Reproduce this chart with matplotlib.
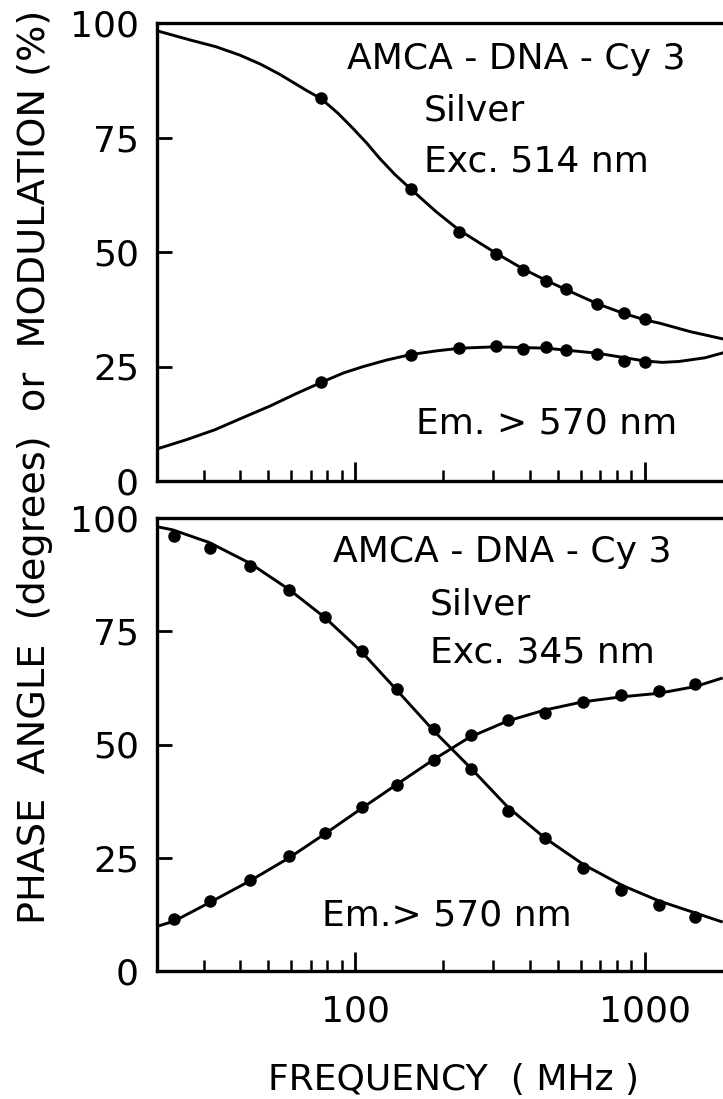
import matplotlib
matplotlib.use("Agg")
from matplotlib import pyplot as plt
from matplotlib.ticker import FixedLocator, NullFormatter

# ---- data ----
# top panel: Exc. 514 nm
topFreq = [76, 155, 228, 305, 380, 456, 534, 686, 845, 1000]
topMod = [83.6, 63.8, 54.4, 49.6, 46.0, 43.6, 42.0, 38.7, 36.6, 35.4]
topPhase = [21.7, 27.5, 29.0, 29.4, 28.8, 29.2, 28.5, 27.7, 26.3, 25.9]

topModFitFreq = [20.6, 26.8, 33, 39.8, 47, 54.7, 61, 67.6, 76, 87, 98, 110, 121,
                 137, 155, 190, 228, 305, 380, 456, 534, 686, 845, 1000, 1135,
                 1439, 1870]
topModFit = [98.3, 96.3, 94.8, 93.0, 91.0, 88.8, 87.0, 85.3, 83.5, 80.3, 77.0,
             73.6, 70.5, 66.9, 63.8, 58.8, 54.8, 49.8, 46.3, 43.8, 41.8, 38.7,
             36.6, 35.2, 34.4, 32.6, 31.0]
topPhaseFitFreq = [20.6, 26, 32.7, 40, 50.8, 62, 77.9, 91, 106.6, 128, 155, 190,
                   230, 305, 456, 686, 1000, 1150, 1315, 1615, 1870]
topPhaseFit = [7.0, 9.0, 11.2, 13.6, 16.4, 19.0, 21.8, 23.6, 25.0, 26.4, 27.6,
               28.4, 29.0, 29.3, 29.0, 27.9, 26.2, 25.9, 26.1, 26.9, 28.0]

# bottom panel: Exc. 345 nm
botFreq = [23.5, 31.4, 43.2, 59.0, 78.5, 105, 139, 186.6, 250, 336, 451, 611,
           831, 1117, 1490]
botPhase = [11.5, 15.5, 20.1, 25.3, 30.4, 36.2, 41.0, 46.6, 52.0, 55.3, 57.0,
            59.3, 60.9, 61.9, 63.3]
botMod = [96.1, 93.4, 89.5, 84.0, 78.2, 70.6, 62.3, 53.4, 44.7, 35.4, 29.4,
          22.7, 17.9, 14.6, 12.0]

botPhaseFitFreq = [20.5, 23.6, 31.5, 43.2, 59, 78.5, 105.6, 139, 186.6, 248, 336,
                   451, 609, 826, 1117, 1497, 1840]
botPhaseFit = [9.8, 11.0, 15.2, 19.9, 25.0, 30.3, 36.0, 41.2, 46.7, 51.6, 55.2,
               57.6, 59.4, 60.5, 61.3, 62.8, 64.6]
botModFitFreq = [20.5, 23.3, 31.2, 43.2, 59, 78.5, 104.9, 139, 186.6, 253, 336,
                 451, 614, 836, 1117, 1482, 1840]
botModFit = [98.1, 97.4, 94.6, 90.0, 84.2, 78.0, 70.5, 62.0, 53.0, 44.5, 36.2,
             29.4, 23.5, 18.9, 15.5, 12.9, 10.9]

yTicks = [0, 25, 50, 75, 100]
xMinor = [30, 40, 50, 60, 70, 80, 90, 200, 300, 400, 500, 600, 700, 800, 900]
xMajor = [100, 1000]
xLabels = ["100", "1000"]

plt.rcParams['font.family'] = ['DejaVu Sans']
plt.rcParams['font.size'] = 26

fig = plt.figure(figsize=(7.23, 10.99), dpi=100)
axTop = fig.add_axes([157 / 723, 1 - 481 / 1099, 1 - 157 / 723, 458 / 1099])
axBot = fig.add_axes([157 / 723, 1 - 971 / 1099, 1 - 157 / 723, 453 / 1099])


def styleAxis(ax, showLabels):
    ax.set_xscale('log')
    ax.set_xlim(20.6, 1865)
    ax.set_ylim(0, 100)
    ax.spines['right'].set_visible(False)
    for s in ['left', 'bottom', 'top']:
        ax.spines[s].set_linewidth(2.4)
    ax.yaxis.set_major_locator(FixedLocator(yTicks))
    ax.set_yticklabels([str(t) for t in yTicks])
    ax.xaxis.set_major_locator(FixedLocator(xMajor))
    ax.xaxis.set_minor_locator(FixedLocator(xMinor))
    ax.xaxis.set_minor_formatter(NullFormatter())
    if showLabels:
        ax.set_xticklabels(xLabels)
    else:
        ax.set_xticklabels([])
    ax.tick_params(axis='y', direction='in', length=11, width=2, pad=13,
                   right=False)
    ax.tick_params(axis='x', which='major', direction='in', length=14,
                   width=2, pad=17, top=False)
    ax.tick_params(axis='x', which='minor', direction='in', length=8,
                   width=1.8, top=False)


styleAxis(axTop, False)
styleAxis(axBot, True)

lineKw = dict(color='black', linewidth=2.1, zorder=2)
dotKw = dict(color='black', marker='o', markersize=8, linestyle='none', zorder=3)

axTop.plot(topModFitFreq, topModFit, **lineKw)
axTop.plot(topPhaseFitFreq, topPhaseFit, **lineKw)
axTop.plot(topFreq, topMod, **dotKw)
axTop.plot(topFreq, topPhase, **dotKw)

axBot.plot(botPhaseFitFreq, botPhaseFit, **lineKw)
axBot.plot(botModFitFreq, botModFit, **lineKw)
axBot.plot(botFreq, botPhase, **dotKw)
axBot.plot(botFreq, botMod, **dotKw)

axTop.text(361, 92.1, "AMCA - DNA - Cy 3", ha='center', va='center')
axTop.text(172, 80.8, "Silver", ha='left', va='center')
axTop.text(172, 69.7, "Exc. 514 nm", ha='left', va='center')
axTop.text(162, 12.6, "Em. > 570 nm", ha='left', va='center')

axBot.text(323, 92.6, "AMCA - DNA - Cy 3", ha='center', va='center')
axBot.text(181, 81.0, "Silver", ha='left', va='center')
axBot.text(181, 70.3, "Exc. 345 nm", ha='left', va='center')
axBot.text(76.7, 12.2, "Em.> 570 nm", ha='left', va='center')

fig.text(35 / 723, 1 - 467 / 1099,
         "PHASE  ANGLE  (degrees)  or  MODULATION (%)",
         rotation=90, ha='center', va='center', fontsize=27.5)
fig.text(454 / 723, 1 - 1080 / 1099, "FREQUENCY  ( MHz )",
         ha='center', va='center')

fig.savefig("out.png", dpi=100)
